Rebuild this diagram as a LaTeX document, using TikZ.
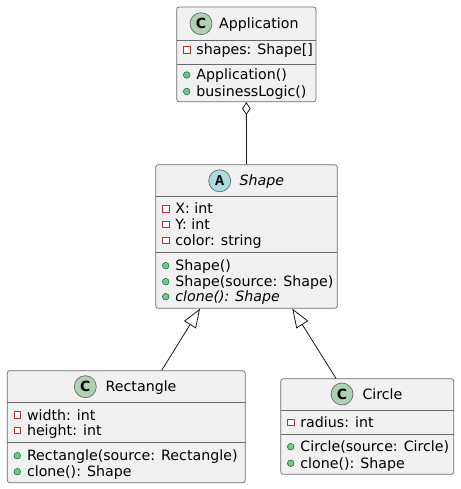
\documentclass[tikz,border=0pt]{standalone}
\usepackage{fontspec}
\setmainfont{DejaVu Sans}
\newfontfamily\iconmono{Liberation Mono}
\usetikzlibrary{arrows.meta}
\definecolor{boxfill}{HTML}{F1F1F1}
\definecolor{boxline}{HTML}{181818}
\definecolor{divline}{HTML}{6A6A6A}
\definecolor{ciconfill}{HTML}{ADD1B2}
\definecolor{aiconfill}{HTML}{A9DCDF}
\definecolor{privred}{HTML}{C82930}
\definecolor{pubfill}{HTML}{84BE84}
\definecolor{publine}{HTML}{038048}
\tikzset{
  umlbox/.style={draw=divline, fill=boxfill, line width=0.7pt, rounded corners=2.5pt, inner sep=0pt, rectangle},
  divider/.style={draw=divline, line width=0.7pt},
  mtext/.style={inner sep=0pt, anchor=base west, font=\fontsize{14.2}{16}\selectfont},
  ttext/.style={inner sep=0pt, anchor=base west, font=\fontsize{14.2}{16}\selectfont},
  classicon/.style={circle, draw=divline, line width=0.7pt, fill=ciconfill, minimum size=22pt, inner sep=0pt, font=\fontsize{14}{16}\selectfont\bfseries},
  abstracticon/.style={circle, draw=divline, line width=0.7pt, fill=aiconfill, minimum size=22pt, inner sep=0pt, font=\fontsize{15}{16}\selectfont\iconmono\bfseries},
  privicon/.style={draw=privred, fill=white, line width=0.8pt},
  pubicon/.style={draw=publine, fill=pubfill, line width=0.6pt},
  conn/.style={draw=boxline, line width=0.8pt},
}
% #1 x of box left, #2 baseline, #3 node name, #4 text
\newcommand\privmember[4]{%
  \draw[privicon] ({#1+10-3.2},{#2-5-3.2}) rectangle ({#1+10+3.2},{#2-5+3.2});
  \node[mtext] (#3) at ({#1+19.5},#2) {#4};}
\newcommand\pubmember[4]{%
  \draw[pubicon] ({#1+10},{#2-5}) circle (3.3);
  \node[mtext] (#3) at ({#1+19.5},#2) {#4};}
\begin{document}
\begin{tikzpicture}[x=1pt,y=-1pt]
\useasboundingbox (0,0) rectangle (460,489);

% Application
\node[umlbox, minimum width=139.3pt, minimum height=94.7pt] (app) at (246.35,54.35) {};
\draw[divider] (176.7,40) -- (316,40);
\draw[divider] (176.7,64.3) -- (316,64.3);
\node[classicon] (appicon) at (201,23.7) {C};
\node[ttext] (apptitle) at (219,29) {Application};
\privmember{176.7}{55}{appm1}{shapes: Shape[]}
\pubmember{176.7}{80}{appm2}{Application()}
\pubmember{176.7}{96.5}{appm3}{businessLogic()}

% Shape
\node[umlbox, minimum width=181.6pt, minimum height=143.6pt] (shape) at (246.5,236.5) {};
\draw[divider] (155.7,196) -- (337.3,196);
\draw[divider] (155.7,252.3) -- (337.3,252.3);
\node[abstracticon] (shapeicon) at (219.7,180.8) {A};
\node[ttext] (shapetitle) at (239.5,185.5) {\itshape Shape};
\privmember{155.7}{213.8}{shm1}{X: int}
\privmember{155.7}{229.5}{shm2}{Y: int}
\privmember{155.7}{245.5}{shm3}{color: string}
\pubmember{155.7}{270.7}{shm4}{Shape()}
\pubmember{155.7}{286.7}{shm5}{Shape(source: Shape)}
\pubmember{155.7}{301.7}{shm6}{\itshape clone(): Shape}

% Rectangle
\node[umlbox, minimum width=238pt, minimum height=112pt] (rect) at (126.3,426.7) {};
\draw[divider] (7.3,402.3) -- (245.3,402.3);
\draw[divider] (7.3,442.3) -- (245.3,442.3);
\node[classicon] (recticon) at (85.3,386.7) {C};
\node[ttext] (recttitle) at (105.5,391.7) {Rectangle};
\privmember{7.3}{420}{rem1}{width: int}
\privmember{7.3}{435.5}{rem2}{height: int}
\pubmember{7.3}{460.7}{rem3}{Rectangle(source: Rectangle)}
\pubmember{7.3}{476.7}{rem4}{clone(): Shape}

% Circle
\node[umlbox, minimum width=173pt, minimum height=95.6pt] (circ) at (367.2,426.5) {};
\draw[divider] (280.7,410.7) -- (453.7,410.7);
\draw[divider] (280.7,434.3) -- (453.7,434.3);
\node[classicon] (circicon) at (342,394) {C};
\node[ttext] (circtitle) at (362.3,399.3) {Circle};
\privmember{280.7}{427.3}{cim1}{radius: int}
\pubmember{280.7}{451.7}{cim2}{Circle(source: Circle)}
\pubmember{280.7}{468.3}{cim3}{clone(): Shape}

% connectors
\draw[conn, {Diamond[open, length=13pt, width=8.5pt, line width=0.8pt]}-] (app.south) -- (shape.north);
\draw[conn, -{Triangle[open, length=19pt, width=14pt, line width=0.8pt]}] ([xshift=35.4pt]rect.north) -- ([xshift=-46.5pt]shape.south);
\draw[conn, -{Triangle[open, length=19pt, width=14pt, line width=0.8pt]}] ([xshift=-31.2pt]circ.north) -- ([xshift=45.8pt]shape.south);
\end{tikzpicture}
\end{document}
